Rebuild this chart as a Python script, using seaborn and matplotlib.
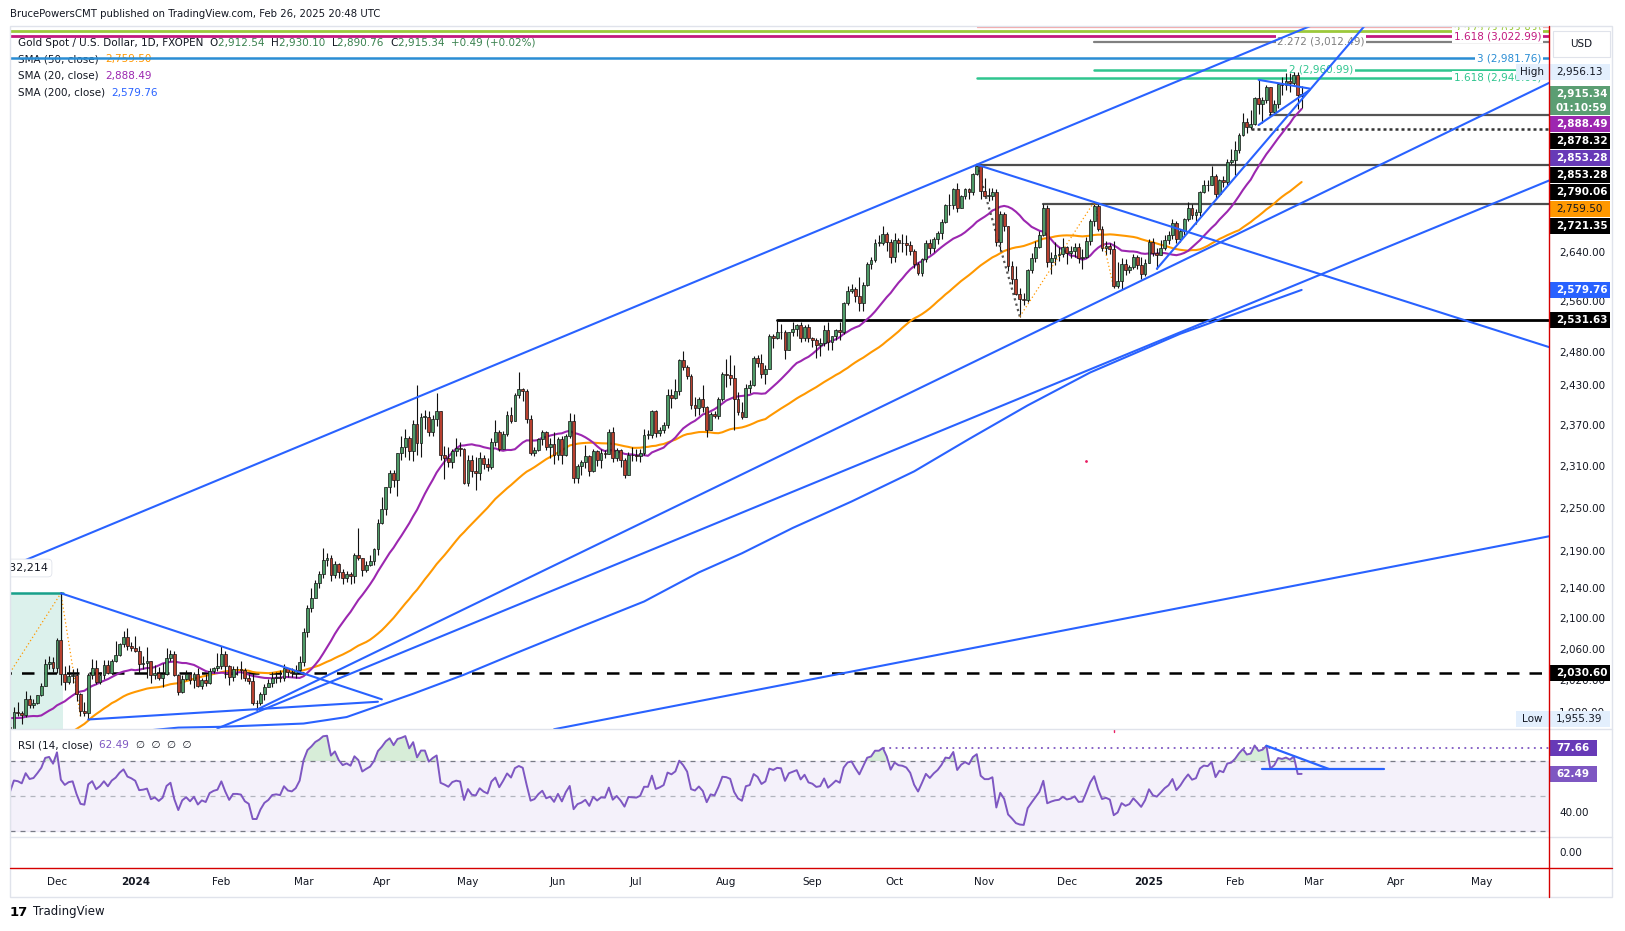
import numpy as np
import pandas as pd
import matplotlib
matplotlib.use("Agg")
import matplotlib.pyplot as plt
import matplotlib.transforms as mtransforms
from matplotlib.patches import Rectangle
from matplotlib.lines import Line2D
import seaborn as sns

# ---------------- data (XAU/USD daily, FXOPEN) ----------------
# closes before the visible window, only used to warm up SMA / RSI
warmup_close = [
    # Sep 2023
    1940, 1939, 1926, 1916, 1919, 1919, 1922, 1913, 1908, 1910, 1924,
    1934, 1931, 1930, 1920, 1925, 1916, 1901, 1874, 1864, 1849,
    # Oct 2023
    1828, 1822, 1822, 1820, 1833, 1861, 1861, 1874, 1868, 1932, 1920,
    1923, 1948, 1974, 1981, 1973, 1971, 1979, 1985, 2006, 1996, 1983,
]

close = [
    # Nov 2023
    1983, 1985, 1992, 1978, 1969, 1950, 1958, 1940, 1946, 1963, 1959, 1981, 1980, 1977, 1998, 1990, 1992, 2002, 2014, 2041, 2044, 2036,
    # Dec 2023
    2072, 2029, 2019, 2026, 2028, 2004, 1982, 1980, 2027, 2036, 2019, 2027, 2040, 2030, 2045, 2053, 2067, 2077, 2065, 2062,
    # Jan 2024
    2058, 2042, 2043, 2045, 2027, 2030, 2024, 2029, 2049, 2055, 2028, 2006, 2023, 2029, 2021, 2029, 2014, 2021, 2018, 2033, 2037, 2039,
    # Feb 2024
    2054, 2039, 2025, 2035, 2035, 2034, 2024, 2020, 1992, 1992, 2004, 2013, 2017, 2024, 2025, 2024, 2036, 2031, 2030, 2034, 2044,
    # Mar 2024
    2083, 2114, 2128, 2148, 2160, 2179, 2182, 2158, 2174, 2162, 2155, 2160, 2157, 2186, 2181, 2165, 2172, 2178, 2194, 2230,
    # Apr 2024
    2250, 2280, 2300, 2290, 2330, 2339, 2352, 2333, 2372, 2344, 2383, 2383, 2361, 2379, 2392, 2327, 2322, 2316, 2332, 2337, 2335, 2286,
    # May 2024
    2320, 2303, 2301, 2323, 2314, 2309, 2346, 2360, 2336, 2358, 2386, 2376, 2415, 2425, 2421, 2379, 2329, 2334, 2350, 2361, 2338, 2343, 2327,
    # Jun 2024
    2350, 2327, 2355, 2376, 2294, 2311, 2316, 2325, 2303, 2332, 2319, 2329, 2328, 2360, 2322, 2334, 2319, 2298, 2327, 2326,
    # Jul 2024
    2325, 2330, 2356, 2356, 2392, 2359, 2364, 2371, 2415, 2411, 2422, 2469, 2459, 2445, 2400, 2396, 2409, 2397, 2364, 2387, 2384, 2410, 2447,
    # Aug 2024
    2446, 2442, 2409, 2390, 2383, 2427, 2431, 2472, 2465, 2447, 2456, 2507, 2504, 2513, 2512, 2484, 2512, 2518, 2524, 2504, 2520, 2503,
    # Sep 2024
    2500, 2493, 2495, 2516, 2497, 2506, 2516, 2512, 2558, 2578, 2582, 2570, 2559, 2587, 2622, 2628, 2657, 2657, 2672, 2658, 2634,
    # Oct 2024
    2662, 2657, 2656, 2653, 2644, 2622, 2608, 2630, 2657, 2649, 2663, 2674, 2692, 2721, 2720, 2748, 2715, 2736, 2747, 2743, 2774, 2788, 2744,
    # Nov 2024
    2736, 2736, 2742, 2659, 2706, 2685, 2619, 2598, 2573, 2565, 2563, 2612, 2631, 2650, 2670, 2716, 2625, 2632, 2637, 2639, 2650,
    # Dec 2024
    2640, 2643, 2650, 2632, 2633, 2660, 2694, 2718, 2680, 2648, 2652, 2646, 2586, 2594, 2622, 2612, 2617, 2634, 2621, 2606, 2624,
    # Jan 2025
    2658, 2640, 2636, 2648, 2661, 2670, 2690, 2663, 2677, 2697, 2715, 2703, 2708, 2743, 2755, 2754, 2770, 2740, 2763, 2760, 2794, 2798,
    # Feb 2025
    2815, 2842, 2866, 2856, 2861, 2908, 2898, 2905, 2929, 2883, 2898, 2935, 2933, 2940, 2936, 2951, 2915, 2915.34,
]

high = [
    1994, 1994, 2004, 1993, 1979, 1971, 1965, 1961, 1947, 1971, 1972, 1988, 1994, 1983, 2007, 2002, 1997, 2003, 2018, 2048, 2052, 2050,
    2075, 2135, 2039, 2040, 2035, 2036, 2005, 1994, 2030, 2048, 2047, 2031, 2047, 2047, 2048, 2071, 2068, 2084, 2088, 2070,
    2078, 2065, 2052, 2064, 2046, 2040, 2038, 2043, 2062, 2059, 2058, 2029, 2027, 2034, 2031, 2031, 2037, 2024, 2029, 2036, 2038, 2056,
    2065, 2058, 2040, 2039, 2039, 2045, 2037, 2029, 2030, 1996, 2006, 2016, 2022, 2031, 2031, 2034, 2041, 2037, 2037, 2040, 2052,
    2088, 2119, 2141, 2152, 2164, 2195, 2189, 2185, 2178, 2175, 2166, 2164, 2163, 2189, 2223, 2182, 2177, 2185, 2195, 2236,
    2266, 2281, 2305, 2305, 2330, 2354, 2365, 2355, 2378, 2431, 2388, 2393, 2392, 2385, 2418, 2392, 2340, 2338, 2335, 2352, 2345, 2337,
    2326, 2326, 2324, 2331, 2327, 2323, 2351, 2378, 2364, 2362, 2391, 2397, 2418, 2450, 2426, 2424, 2385, 2338, 2352, 2364, 2362, 2351, 2361,
    2353, 2354, 2358, 2388, 2387, 2314, 2319, 2342, 2327, 2335, 2334, 2335, 2334, 2365, 2368, 2337, 2335, 2323, 2331, 2338,
    2335, 2336, 2365, 2364, 2393, 2393, 2368, 2375, 2425, 2424, 2440, 2470, 2483, 2461, 2447, 2412, 2412, 2431, 2399, 2390, 2392, 2412, 2451,
    2470, 2477, 2461, 2420, 2405, 2432, 2438, 2475, 2477, 2478, 2461, 2509, 2510, 2531.63, 2526, 2516, 2513, 2528, 2526, 2528, 2524, 2526,
    2505, 2504, 2504, 2523, 2529, 2507, 2518, 2529, 2560, 2586, 2590, 2584, 2600, 2592, 2626, 2634, 2664, 2670, 2685, 2675, 2664,
    2673, 2665, 2672, 2670, 2660, 2646, 2625, 2632, 2661, 2663, 2666, 2677, 2696, 2722, 2740, 2749, 2758, 2737, 2749, 2749, 2775, 2790.06, 2788,
    2767, 2750, 2750, 2748, 2710, 2709, 2685, 2627, 2618, 2583, 2575, 2614, 2640, 2660, 2676, 2721.35, 2721, 2642, 2658, 2650, 2665,
    2651, 2652, 2657, 2656, 2646, 2667, 2696, 2726, 2722, 2685, 2660, 2657, 2660, 2625, 2632, 2630, 2621, 2638, 2637, 2634, 2630,
    2664, 2665, 2648, 2661, 2670, 2677, 2697, 2694, 2680, 2698, 2725, 2723, 2713, 2745, 2763, 2763, 2787, 2773, 2765, 2770, 2799, 2817,
    2831, 2845, 2882, 2872, 2887, 2911, 2942, 2910, 2932, 2928, 2905, 2937, 2947, 2955, 2954, 2956.13, 2956, 2930.10,
]

low = [
    1970, 1979, 1978, 1973, 1957, 1947, 1945, 1936, 1932, 1938, 1953, 1956, 1976, 1966, 1975, 1986, 1986, 1991, 2001, 2014, 2035, 2031,
    2030, 2015, 2009, 2016, 2017, 1995, 1976, 1976, 1973, 2022, 2016, 2016, 2023, 2029, 2029, 2044, 2052, 2064, 2060, 2058,
    2057, 2030, 2035, 2024, 2017, 2022, 2021, 2013, 2028, 2045, 2026, 2002, 2005, 2021, 2016, 2011, 2013, 2010, 2014, 2016, 2030, 2033,
    2035, 2024, 2015, 2020, 2028, 2023, 2020, 2016, 1990, 1984, 1990, 1996, 2012, 2012, 2018, 2019, 2020, 2025, 2025, 2024, 2030,
    2039, 2077, 2109, 2127, 2141, 2154, 2170, 2150, 2155, 2154, 2147, 2149, 2146, 2148, 2179, 2157, 2163, 2170, 2172, 2186,
    2228, 2241, 2272, 2281, 2268, 2320, 2324, 2320, 2318, 2326, 2324, 2365, 2355, 2355, 2369, 2320, 2292, 2310, 2308, 2325, 2325, 2285,
    2282, 2295, 2277, 2291, 2307, 2303, 2306, 2340, 2333, 2336, 2354, 2374, 2376, 2411, 2406, 2374, 2326, 2325, 2333, 2341, 2334, 2323, 2314,
    2320, 2314, 2325, 2351, 2286, 2287, 2298, 2308, 2296, 2302, 2311, 2308, 2323, 2328, 2316, 2318, 2309, 2293, 2298, 2318,
    2318, 2316, 2327, 2350, 2352, 2353, 2354, 2359, 2366, 2396, 2410, 2415, 2453, 2440, 2394, 2384, 2386, 2390, 2353, 2364, 2381, 2380, 2406,
    2428, 2431, 2364, 2385, 2379, 2382, 2418, 2429, 2458, 2441, 2432, 2455, 2488, 2502, 2502, 2470, 2484, 2506, 2507, 2497, 2499, 2497,
    2489, 2472, 2476, 2491, 2485, 2485, 2500, 2500, 2510, 2556, 2574, 2561, 2546, 2546, 2586, 2614, 2625, 2652, 2653, 2644, 2624,
    2625, 2641, 2642, 2637, 2636, 2615, 2604, 2603, 2626, 2639, 2641, 2655, 2664, 2690, 2703, 2713, 2708, 2715, 2730, 2731, 2738, 2772, 2730,
    2732, 2727, 2729, 2652, 2643, 2677, 2611, 2590, 2572, 2537, 2555, 2560, 2607, 2625, 2648, 2668, 2617, 2605, 2621, 2627, 2634,
    2622, 2631, 2633, 2624, 2613, 2631, 2654, 2685, 2677, 2644, 2636, 2638, 2583, 2583, 2582, 2604, 2607, 2614, 2614, 2597, 2603,
    2624, 2635, 2614, 2636, 2645, 2655, 2664, 2656, 2659, 2670, 2694, 2697, 2689, 2702, 2741, 2744, 2754, 2730, 2735, 2751, 2754, 2791,
    2772, 2810, 2840, 2845, 2853.28, 2860, 2880, 2864, 2899, 2878.32, 2881, 2890, 2915, 2924, 2919, 2930, 2889, 2890.76,
]
last_open = 2912.54

# SMA 200
sma200_dates = ['2024-01-02', '2024-01-17', '2024-02-01', '2024-03-01', '2024-03-18', '2024-04-02',
                '2024-04-11', '2024-04-30', '2024-05-17', '2024-06-11', '2024-07-03', '2024-07-23',
                '2024-08-07', '2024-08-26', '2024-09-16', '2024-10-08', '2024-10-28', '2024-11-18',
                '2024-12-10', '2025-01-14', '2025-02-26']
sma200_vals = [1957, 1962, 1963, 1967, 1975, 1992, 2004, 2028, 2055, 2090, 2123, 2162,
               2188, 2223, 2260, 2303, 2350, 2400, 2450, 2510, 2579.76]

# drawn trend rays (two anchors, extended right)
ray_d0 = ['2023-11-15', '2024-02-14', '2024-01-31', '2024-10-30', '2024-05-31', '2025-01-06']
ray_p0 = [2170, 1984, 1961, 2790, 1960, 2614]
ray_d1 = ['2024-10-30', '2025-02-26', '2025-02-26', '2025-02-26', '2025-02-26', '2025-02-26']
ray_p1 = [2790, 2724, 2592, 2615, 2146, 2906]
# drawn trend segments
seg_d0 = ['2023-12-04', '2023-12-13', '2025-02-11', '2025-02-11']
seg_p0 = [2134, 1972, 2942, 2860]
seg_d1 = ['2024-04-01', '2024-03-28', '2025-02-28', '2025-02-28']
seg_p1 = [1997, 1994, 2926, 2923]

# horizontal levels
level_vals = [2531.63, 2721.35, 2790.06, 2853.28, 2878.32]
level_from = ['2024-08-20', '2024-11-22', '2024-10-30', '2025-02-07', '2025-02-14']
support_2030 = 2030.60

# fibonacci extension levels
fib_vals = [3041.0, 3033.83, 3022.99, 3012.49, 2981.76, 2960.99, 2946.06]
fib_from = ['2024-10-30', None, None, '2024-12-11', None, '2024-12-11', '2024-10-30']
fib_text = ['', '2.272 (3,033.83)', '1.618 (3,022.99)', '2.272 (3,012.49)', '3 (2,981.76)',
            '2 (2,960.99)', '1.618 (2,946.06)']

# measure tools
zz_dates = ['2023-11-15', '2023-12-04', '2023-12-11']
zz_vals = [2030.6, 2134, 1976]
swing_dates = ['2024-10-30', '2024-11-14', '2024-12-11', '2024-12-18']
swing_vals = [2790, 2537, 2726, 2583]

# RSI drawings
rsi_level = 77.66
rsi_level_from = '2024-09-26'
rsi_seg_d0 = ['2025-02-13', '2025-02-12']
rsi_seg_v0 = [78.7, 65.6]
rsi_seg_d1 = ['2025-03-07', '2025-03-27']
rsi_seg_v1 = [65.4, 65.6]

# right-axis tags
price_ticks = [2640, 2560, 2480, 2430, 2370, 2310, 2250, 2190, 2140, 2100, 2060, 2020, 1980]
tag_vals = [2956.13, 2915.34, 2888.49, 2878.32, 2853.28, 2853.28, 2790.06, 2759.50, 2721.35,
            2579.76, 2531.63, 2030.60]

# ---------------- styling ----------------
sns.set_theme(style="white")
plt.rcParams['font.family'] = ['DejaVu Sans']
DARK = '#131722'
GREEN = '#4e9a67'
RED = '#b8402f'
BLUE = '#2962ff'
VALG = '#3b8250'
FS = 7.5

W, H = 1625, 931
fig = plt.figure(figsize=(W / 100, H / 100), dpi=100)
fig.patch.set_facecolor('white')


def fx(x):
    return x / W


def fy(y):
    return 1 - y / H


L, R = 10, 1549
ax = fig.add_axes([fx(L), fy(729), (R - L) / W, (729 - 26) / H])
ax_rsi = fig.add_axes([fx(L), fy(837), (R - L) / W, (837 - 729) / H], sharex=ax)
ax_nil = fig.add_axes([fx(L), fy(868), (R - L) / W, (868 - 837) / H], sharex=ax)
for a in (ax, ax_rsi, ax_nil):
    a.set_facecolor('none')
    for s in a.spines.values():
        s.set_visible(False)
    a.tick_params(left=False, bottom=False, labelleft=False, labelbottom=False)
    a.set_xlabel('')
    a.set_ylabel('')

# ---------------- frame ----------------
holidays = pd.to_datetime(['2023-12-25', '2024-01-01', '2024-03-29', '2024-12-25', '2025-01-01'])
days = pd.bdate_range('2023-09-01', '2025-06-30')
days = days[~days.isin(holidays)]
origin = days.get_loc(pd.Timestamp('2023-12-01'))
xs = pd.Series(np.arange(len(days)) - origin, index=days)


def xd(d):
    return float(xs[pd.Timestamp(d)])


n = len(warmup_close) + len(close)
pad = [np.nan] * len(warmup_close)
df = pd.DataFrame({'date': days[:n], 'x': xs.values[:n], 'close': warmup_close + close,
                   'high': pad + high, 'low': pad + low})
df['open'] = df['close'].shift(1)
df.loc[n - 1, 'open'] = last_open
df['high'] = df[['high', 'open', 'close']].max(axis=1)
df['low'] = df[['low', 'open', 'close']].min(axis=1)
df['sma20'] = df['close'].rolling(20).mean()
df['sma50'] = df['close'].rolling(50).mean()
delta = df['close'].diff()
gain = delta.clip(lower=0).ewm(alpha=1 / 14, adjust=False).mean()
loss = (-delta.clip(upper=0)).ewm(alpha=1 / 14, adjust=False).mean()
df['rsi'] = 100 - 100 / (1 + gain / loss)

X0, X1 = -12.0, 381.2
P0, P1 = 1960.3, 3042.7
ax.set_yscale('log')
ax.set_xlim(X0, X1)
ax.set_ylim(P0, P1)
ax_rsi.set_ylim(26.57, 88.29)
ax_nil.set_ylim(0, 1)

vis = df[df['x'] >= X0 - 1].copy()

# ---------------- price pane ----------------
# measure box at the far left
ax.add_patch(Rectangle((X0 - 2, P0 * 0.98), xd('2023-12-04') + 0.6 - (X0 - 2), 2134 - P0 * 0.98,
                       facecolor='#dcf1ec', edgecolor='none', zorder=0.5))
ax.plot([X0 - 2, xd('2023-12-04') + 0.6], [2134, 2134], color='#17a08a', lw=1.8, zorder=1)
ax.plot([xd(d) for d in zz_dates], zz_vals, color='#ff9800', lw=0.9, ls=(0, (1, 2)), zorder=1)

# SMA lines
sns.lineplot(data=vis, x='x', y='sma50', ax=ax, color='#ff9800', lw=1.5, zorder=3)
sns.lineplot(data=vis, x='x', y='sma20', ax=ax, color='#9c27b0', lw=1.5, zorder=3)
sma200 = pd.DataFrame({'x': [xd(d) for d in sma200_dates], 'v': sma200_vals})
sns.lineplot(data=sma200, x='x', y='v', ax=ax, color=BLUE, lw=1.5, zorder=3)

# candles
cv = vis.dropna(subset=['high'])
up = cv['close'] >= cv['open']
ax.vlines(cv['x'], cv['low'], cv['high'], color='#111111', lw=0.8, zorder=4)
blo = np.minimum(cv['open'], cv['close'])
bh = np.maximum((cv['close'] - cv['open']).abs(), 0.8)
ax.bar(cv['x'][up], bh[up], bottom=blo[up], width=0.72, color=GREEN, edgecolor='#111111', lw=0.5, zorder=5)
ax.bar(cv['x'][~up], bh[~up], bottom=blo[~up], width=0.72, color=RED, edgecolor='#111111', lw=0.5, zorder=5)

# dotted swing measures
sx = [xd(d) for d in swing_dates]
ax.plot(sx[:2], swing_vals[:2], color='#555555', lw=1.6, ls=(0, (1, 1.5)), zorder=4)
ax.plot(sx[1:], swing_vals[1:], color='#ff9800', lw=0.9, ls=(0, (1, 2)), zorder=4)

# trend rays / segments
for d0, p0, d1, p1 in zip(ray_d0, ray_p0, ray_d1, ray_p1):
    a0, a1 = xd(d0), xd(d1)
    k = (np.log(p1) - np.log(p0)) / (a1 - a0)
    xe = X1 + 5
    ax.plot([a0, xe], [p0, np.exp(np.log(p0) + k * (xe - a0))], color=BLUE, lw=1.5, zorder=6)
for d0, p0, d1, p1 in zip(seg_d0, seg_p0, seg_d1, seg_p1):
    ax.plot([xd(d0), xd(d1)], [p0, p1], color=BLUE, lw=1.5, zorder=6)

# horizontal levels
lvl_colors = ['#000000', '#4d4d4d', '#4d4d4d', '#333333', '#555555']
lvl_ls = ['-', '-', '-', (0, (1.2, 1.2)), '-']
lvl_lw = [2.0, 1.6, 1.6, 1.8, 1.6]
for v, d, c, ls, lw in zip(level_vals, level_from, lvl_colors, lvl_ls, lvl_lw):
    ax.plot([xd(d), X1 + 5], [v, v], color=c, ls=ls, lw=lw, zorder=2)
ax.plot([X0 - 5, X1 + 5], [support_2030, support_2030], color='#000000', lw=1.8, ls=(0, (5, 4)), zorder=2)

# fib levels and their labels
fib_colors = ['#f4a3a3', '#9cc93b', '#c2187f', '#808080', '#2a8dd4', '#2fc58f', '#2fc58f']
fib_lw = [0.9, 2.0, 2.0, 1.6, 1.8, 1.8, 1.8]
bt = mtransforms.blended_transform_factory(fig.transFigure, ax.transData)
for v, d, c, lw, t in zip(fib_vals, fib_from, fib_colors, fib_lw, fib_text):
    xa = X0 - 5 if d is None else xd(d)
    ax.plot([xa, X1 + 5], [v, v], color=c, lw=lw, zorder=2)
    if t:
        centered = d == '2024-12-11'
        ax.text(fx(1321) if centered else fx(1541), v, t, transform=bt, color=c, fontsize=FS,
                ha='center' if centered else 'right', va='center', zorder=2.5, clip_on=True,
                bbox=dict(boxstyle='square,pad=0.15', fc='white', ec='none'))

# measure label at far left
ax.text(fx(48), fy(568), '832,214', transform=fig.transFigure, fontsize=FS + 0.5, color=DARK,
        ha='right', va='center', zorder=7, clip_on=True,
        bbox=dict(boxstyle='round,pad=0.35', fc='white', ec='#e0e3eb', lw=0.6))

# stray marks
ax.plot([xd('2024-12-09')], [2318], marker='.', ms=2, color='#e91e63', zorder=7)

# legend header (drawn under the fib lines)
renderer = fig.canvas.get_renderer()


def text_run(x, y, pieces, target=ax, size=FS, z=1):
    xf = fx(x)
    for s, c in pieces:
        t = target.text(xf, fy(y), s, transform=fig.transFigure, color=c, fontsize=size,
                        ha='left', va='center', zorder=z)
        xf += t.get_window_extent(renderer).width / W


text_run(18, 42.7, [('Gold Spot / U.S. Dollar, 1D, FXOPEN  ', DARK), ('O', DARK), ('2,912.54  ', VALG),
                    ('H', DARK), ('2,930.10  ', VALG), ('L', DARK), ('2,890.76  ', VALG),
                    ('C', DARK), ('2,915.34  ', VALG), ('+0.49 (+0.02%)', VALG)])
text_run(18, 59.3, [('SMA (50, close)  ', DARK), ('2,759.50', '#ff9800')])
text_run(18, 76.0, [('SMA (20, close)  ', DARK), ('2,888.49', '#9c27b0')])
text_run(18, 92.7, [('SMA (200, close)  ', DARK), ('2,579.76', BLUE)])

# ---------------- RSI pane ----------------
ax_rsi.axhspan(30, 70, color='#7e57c2', alpha=0.08, zorder=0)
for lv, c in ((70, '#787b86'), (50, '#b2b5be'), (30, '#787b86')):
    ax_rsi.axhline(lv, color=c, lw=0.9, ls=(0, (4, 4)), zorder=1)
rv = vis.dropna(subset=['rsi'])
ax_rsi.fill_between(rv['x'], rv['rsi'], 70, where=rv['rsi'] > 70, interpolate=True,
                    color='#4caf50', alpha=0.22, lw=0, zorder=1.5)
sns.lineplot(data=rv, x='x', y='rsi', ax=ax_rsi, color='#7e57c2', lw=1.4, zorder=3)
ax_rsi.plot([xd(rsi_level_from), X1 + 5], [rsi_level, rsi_level], color='#7e57c2', lw=1.3,
            ls=(0, (1, 2.5)), zorder=2)
for d0, v0, d1, v1 in zip(rsi_seg_d0, rsi_seg_v0, rsi_seg_d1, rsi_seg_v1):
    ax_rsi.plot([xd(d0), xd(d1)], [v0, v1], color=BLUE, lw=1.6, zorder=4)
ax_rsi.plot([xd('2024-12-18')] * 2, [86.5, 88.5], color='#e91e63', lw=1, zorder=4)
for a in (ax_rsi, ax_nil):
    a.set_xlabel('')
    a.set_ylabel('')
ax.set_xlabel('')
ax.set_ylabel('')
text_run(18, 745, [('RSI (14, close)  ', DARK), ('62.49  ', '#7e57c2'), ('\u2205  \u2205  \u2205  \u2205', DARK)],
         target=ax_rsi, z=5)

# ---------------- outer frame & separators ----------------
fig.add_artist(Rectangle((fx(10), fy(897)), (1612 - 10) / W, (897 - 26) / H, transform=fig.transFigure,
                         fill=False, edgecolor='#e0e3eb', lw=1, zorder=1))
for yy in (729, 837):
    fig.add_artist(Line2D([fx(10), fx(1612)], [fy(yy), fy(yy)], transform=fig.transFigure,
                          color='#e0e3eb', lw=1, zorder=1))
fig.add_artist(Line2D([fx(10), fx(1612)], [fy(868), fy(868)], transform=fig.transFigure,
                      color='#d50000', lw=1, zorder=8))
fig.add_artist(Line2D([fx(R), fx(R)], [fy(26), fy(897)], transform=fig.transFigure,
                      color='#d50000', lw=1, zorder=8))


# ---------------- right axis ----------------
def py(price, a=ax):
    return H - a.transData.transform((0, price))[1]


def box(x0, y0, x1, y1, fc, ec='none', lw=0, z=5):
    fig.add_artist(Rectangle((fx(x0), fy(y1)), (x1 - x0) / W, (y1 - y0) / H, transform=fig.transFigure,
                             facecolor=fc, edgecolor=ec, linewidth=lw, zorder=z))


def label(x, y, s, color, ha='left', weight='normal', size=FS, z=6):
    fig.text(fx(x), fy(y), s, color=color, fontsize=size, ha=ha, va='center', fontweight=weight, zorder=z)


for p in price_ticks:
    label(1559, py(p), f'{p:,.2f}', DARK, z=4)
label(1559, 853, '0.00', DARK, z=4)
label(1559, py(40, ax_rsi), '40.00', DARK, z=4)

tag_style = [('#e3effd', DARK, 1), ('#5b9e73', 'white', 2), ('#9c27b0', 'white', 1), ('#000000', 'white', 1),
             ('#673ab7', 'white', 1), ('#000000', 'white', 1), ('#000000', 'white', 1), ('#ff9800', DARK, 1),
             ('#000000', 'white', 1), ('#2962ff', 'white', 1), ('#000000', 'white', 1), ('#000000', 'white', 1)]
prev_bottom = -1e9
for v, (bg, fg, rows) in zip(tag_vals, tag_style):
    yc = py(v)
    top = max(yc - 8, prev_bottom + 1)
    hgt = 16 if rows == 1 else 29
    box(1550, top, 1610, top + hgt, bg)
    wt = 'normal' if bg in ('#e3effd', '#ff9800') else 'bold'
    label(1556, top + 8, f'{v:,.2f}', fg, weight=wt)
    if rows == 2:
        label(1556, top + 21.5, '01:10:59', fg, weight='bold')
    prev_bottom = top + hgt

# High / Low markers
yh = py(tag_vals[0]) if py(tag_vals[0]) - 8 > 0 else 72
box(1516, yh - 8, 1549, yh + 8, '#e3effd')
label(1532, yh, 'High', DARK, ha='center')
yl = 719
box(1516, yl - 8, 1549, yl + 8, '#e3effd')
label(1532, yl, 'Low', DARK, ha='center')
box(1550, yl - 8, 1610, yl + 8, '#e3effd')
label(1556, yl, '1,955.39', DARK)

# USD box
fig.add_artist(Rectangle((fx(1553), fy(57)), 57 / W, 26 / H, transform=fig.transFigure,
                         facecolor='white', edgecolor='#e0e3eb', lw=0.8, zorder=5))
label(1581, 44, 'USD', DARK, ha='center')

# RSI tags
for v, bg in ((77.66, '#673ab7'), (62.49, '#7e57c2')):
    yc = py(v, ax_rsi)
    box(1550, yc - 8, 1597, yc + 8, bg)
    label(1556, yc, f'{v:.2f}', 'white', weight='bold')

# ---------------- time axis ----------------
month_first = days.to_series().groupby([days.year, days.month]).first()
for ts in month_first:
    if ts < pd.Timestamp('2023-12-01') or ts > pd.Timestamp('2025-05-31'):
        continue
    xp = ax.transData.transform((xs[ts], 2000))[0]
    if ts.month == 1:
        label(xp, 882, str(ts.year), DARK, ha='center', weight='bold')
    else:
        label(xp, 882, ts.strftime('%b'), DARK, ha='center')

# ---------------- header / footer ----------------
label(10, 14, 'BrucePowersCMT published on TradingView.com, Feb 26, 2025 20:48 UTC', DARK, size=7.3)
label(10, 912, '17', '#000000', weight='heavy', size=9.5)
label(33, 912, 'TradingView', '#131722', size=8.5)

fig.savefig('out.png', dpi=100, facecolor='white')
